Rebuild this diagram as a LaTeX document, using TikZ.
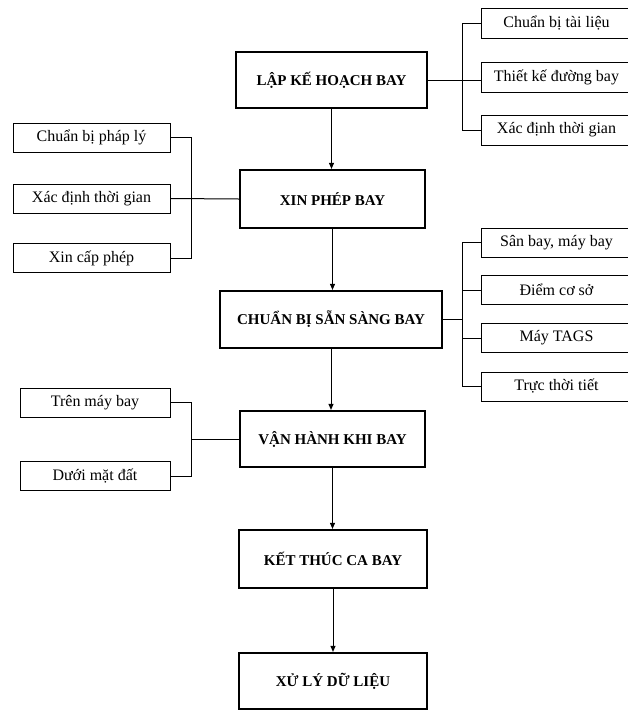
\documentclass[tikz,border=0pt]{standalone}
\usepackage{fontspec}
\setmainfont{Liberation Serif}
\usetikzlibrary{arrows.meta}
\tikzset{
  mainbox/.style={draw, line width=2.2pt, font=\fontsize{15}{17}\selectfont\bfseries, inner sep=0pt, anchor=center},
  sidebox/.style={draw, line width=0.9pt, font=\fontsize{16}{18}\selectfont, inner sep=0pt, anchor=center},
  link/.style={line width=1pt},
  flow/.style={line width=1pt, -{Triangle[length=6pt,width=5pt]}}
}
\begin{document}
\begin{tikzpicture}[x=1pt,y=-1pt]
\useasboundingbox (0,0) rectangle (627,710);
% main boxes
\node[mainbox, minimum width=191pt, minimum height=56pt] (plan) at (331.5,80) {LẬP KẾ HOẠCH BAY};
\node[mainbox, minimum width=185pt, minimum height=58pt] (xin) at (332.5,199) {XIN PHÉP BAY};
\node[mainbox, minimum width=222pt, minimum height=57pt] (chuan) at (331,319.5) {CHUẨN BỊ SẴN SÀNG BAY};
\node[mainbox, minimum width=185pt, minimum height=56pt] (van) at (332.5,439) {VẬN HÀNH KHI BAY};
\node[mainbox, minimum width=188pt, minimum height=58pt] (ket) at (333,559) {KẾT THÚC CA BAY};
\node[mainbox, minimum width=188pt, minimum height=56pt] (xu) at (333,681) {XỬ LÝ DỮ LIỆU};
% right group 1
\node[sidebox, minimum width=151pt, minimum height=30pt] (r1) at (556.5,23) {Chuẩn bị tài liệu};
\node[sidebox, minimum width=151pt, minimum height=30pt] (r2) at (556.5,77) {Thiết kế đường bay};
\node[sidebox, minimum width=151pt, minimum height=30pt] (r3) at (556.5,130) {Xác định thời gian};
% left group 1
\node[sidebox, minimum width=157pt, minimum height=29pt] (l1) at (91.5,137.5) {Chuẩn bị pháp lý};
\node[sidebox, minimum width=157pt, minimum height=29pt] (l2) at (91.5,198.5) {Xác định thời gian};
\node[sidebox, minimum width=157pt, minimum height=29pt] (l3) at (91.5,258) {Xin cấp phép};
% right group 2
\node[sidebox, minimum width=151pt, minimum height=29pt] (s1) at (556.5,242.5) {Sân bay, máy bay};
\node[sidebox, minimum width=151pt, minimum height=29pt] (s2) at (556.5,290) {Điểm cơ sở};
\node[sidebox, minimum width=151pt, minimum height=29pt] (s3) at (556.5,338) {Máy TAGS};
\node[sidebox, minimum width=151pt, minimum height=29pt] (s4) at (556.5,386.5) {Trực thời tiết};
% left group 2
\node[sidebox, minimum width=150pt, minimum height=29pt] (m1) at (95,402.5) {Trên máy bay};
\node[sidebox, minimum width=150pt, minimum height=29pt] (m2) at (95,476) {Dưới mặt đất};
% flow arrows
\draw[flow] (plan.south) -- (plan.south |- xin.north);
\draw[flow] (xin.south) -- (xin.south |- chuan.north);
\draw[flow] (chuan.south) -- (chuan.south |- van.north);
\draw[flow] (van.south) -- (van.south |- ket.north);
\draw[flow] (ket.south) -- (ket.south |- xu.north);
% bus coordinates
\coordinate (busA) at (462,80);
\coordinate (busB) at (191,198.5);
\coordinate (busC) at (462,319.5);
\coordinate (busD) at (191,439);
% brackets
\draw[link] (plan.east) -- (plan.east -| r2.west);
\draw[link] (r1.west) -| (busA);
\draw[link] (r3.west) -| (busA);
\draw[link] (l2.east) -- (xin.west);
\draw[link] (l1.east) -| (busB);
\draw[link] (l3.east) -| (busB);
\draw[link] (chuan.east) -- (busC);
\draw[link] (s1.west) -| (busC);
\draw[link] (s2.west) -| (busC);
\draw[link] (s3.west) -| (busC);
\draw[link] (s4.west) -| (busC);
\draw[link] (van.west) -- (busD);
\draw[link] (m1.east) -| (busD);
\draw[link] (m2.east) -| (busD);
\end{tikzpicture}
\end{document}
